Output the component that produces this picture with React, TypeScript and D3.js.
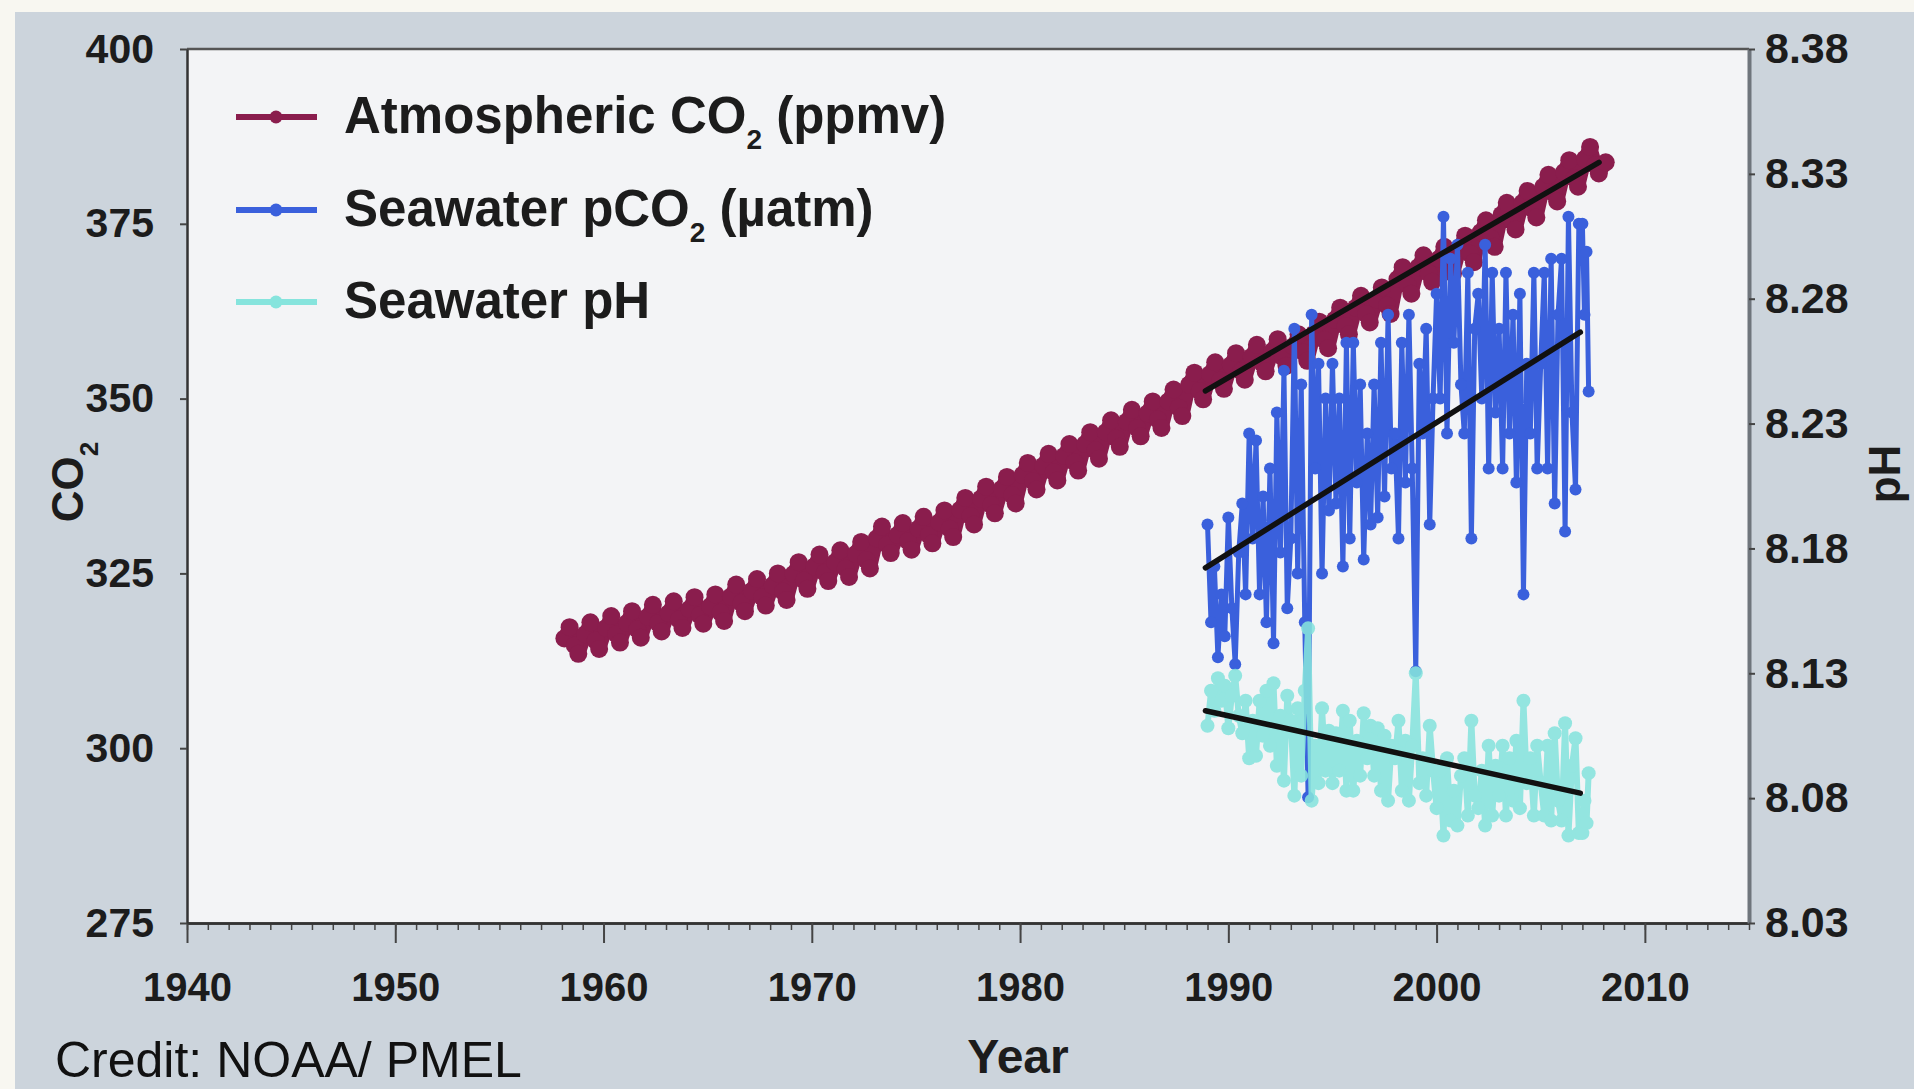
import React, { useEffect, useRef } from 'react';
import * as d3 from 'd3';

// atmospheric record, four samples per year (Feb, May, Aug, Oct)
const co2Years = [
  1958, 1959, 1960, 1961, 1962, 1963, 1964, 1965, 1966, 1967,
  1968, 1969, 1970, 1971, 1972, 1973, 1974, 1975, 1976, 1977,
  1978, 1979, 1980, 1981, 1982, 1983, 1984, 1985, 1986, 1987,
  1988, 1989, 1990, 1991, 1992, 1993, 1994, 1995, 1996, 1997,
  1998, 1999, 2000, 2001, 2002, 2003, 2004, 2005, 2006, 2007, 2008,
];
const co2MonthOffsets = [0.12, 0.37, 0.62, 0.79];
const co2Feb = [
  315.7, 316.3, 317.2, 317.9, 318.8, 319.3, 319.9, 320.3, 321.7, 322.5,
  323.3, 324.9, 326.0, 326.6, 327.8, 330.0, 330.5, 331.4, 332.3, 334.1,
  335.7, 337.1, 339.1, 340.4, 341.8, 343.5, 345.2, 346.7, 347.9, 349.6,
  352.0, 353.5, 354.8, 356.0, 356.8, 357.5, 359.3, 361.3, 363.0, 364.2,
  367.1, 368.8, 370.0, 371.6, 373.8, 376.3, 378.0, 380.3, 382.4, 384.3, 383.8,
];
const co2May = [
  317.3, 318.0, 318.9, 319.6, 320.5, 321.0, 321.6, 322.0, 323.4, 324.2,
  325.0, 326.6, 327.7, 328.3, 329.5, 331.7, 332.2, 333.1, 334.0, 335.8,
  337.4, 338.8, 340.8, 342.1, 343.5, 345.2, 346.9, 348.4, 349.6, 351.3,
  353.7, 355.2, 356.5, 357.7, 358.5, 359.2, 361.0, 363.0, 364.7, 365.9,
  368.8, 370.5, 371.7, 373.3, 375.5, 378.0, 379.7, 382.0, 384.1, 386.0, null,
];
const co2Aug = [
  314.7, 315.4, 316.3, 317.0, 317.9, 318.4, 319.0, 319.4, 320.8, 321.6,
  322.4, 324.0, 325.1, 325.7, 326.9, 329.1, 329.6, 330.5, 331.4, 333.2,
  334.8, 336.2, 338.2, 339.5, 340.9, 342.6, 344.3, 345.8, 347.0, 348.7,
  351.1, 352.6, 353.9, 355.1, 355.9, 356.6, 358.4, 360.4, 362.1, 363.3,
  366.2, 367.9, 369.1, 370.7, 372.9, 375.4, 377.1, 379.4, 381.5, 383.4, null,
];
const co2Oct = [
  313.5, 314.2, 315.1, 315.8, 316.7, 317.2, 317.8, 318.2, 319.6, 320.4,
  321.2, 322.8, 323.9, 324.5, 325.7, 327.9, 328.4, 329.3, 330.2, 332.0,
  333.6, 335.0, 337.0, 338.3, 339.7, 341.4, 343.1, 344.6, 345.8, 347.5,
  349.9, 351.4, 352.7, 353.9, 354.7, 355.4, 357.2, 359.2, 360.9, 362.1,
  365.0, 366.7, 367.9, 369.5, 371.7, 374.2, 375.9, 378.2, 380.3, 382.2, null,
];

// seawater time series (roughly bi-monthly cruises)
const seaTimes = [
  1989.0, 1989.17, 1989.33, 1989.5, 1989.67, 1989.83,
  1990.0, 1990.17, 1990.33, 1990.5, 1990.67, 1990.83,
  1991.0, 1991.17, 1991.33, 1991.5, 1991.67, 1991.83,
  1992.0, 1992.17, 1992.33, 1992.5, 1992.67, 1992.83,
  1993.0, 1993.17, 1993.33, 1993.5, 1993.67, 1993.83,
  1994.0, 1994.17, 1994.33, 1994.5, 1994.67, 1994.83,
  1995.0, 1995.17, 1995.33, 1995.5, 1995.67, 1995.83,
  1996.0, 1996.17, 1996.33, 1996.5, 1996.67, 1996.83,
  1997.0, 1997.17, 1997.33, 1997.5, 1997.67, 1997.83,
  1998.0, 1998.17, 1998.33, 1998.5, 1998.67, 1998.83,
  1999.0, 1999.17, 1999.33, 1999.5, 1999.67, 1999.83,
  2000.0, 2000.17, 2000.33, 2000.5, 2000.67, 2000.83,
  2001.0, 2001.17, 2001.33, 2001.5, 2001.67, 2001.83,
  2002.0, 2002.17, 2002.33, 2002.5, 2002.67, 2002.83,
  2003.0, 2003.17, 2003.33, 2003.5, 2003.67, 2003.83,
  2004.0, 2004.17, 2004.33, 2004.5, 2004.67, 2004.83,
  2005.0, 2005.17, 2005.33, 2005.5, 2005.67, 2005.83,
  2006.0, 2006.17, 2006.33, 2006.5, 2006.67, 2006.83,
  2007.0, 2007.1, 2007.2, 2007.3,
];
const seaPco2 = [
  332, 318, 326, 313, 322, 316,
  333, 320, 312, 328, 335, 322,
  345, 330, 344, 322, 336, 318,
  340, 315, 348, 328, 354, 320,
  330, 360, 325, 352, 318, 293,
  362, 340, 355, 325, 350, 334,
  355, 335, 350, 326, 358, 330,
  358, 338, 352, 327, 345, 332,
  352, 333, 358, 336, 362, 340,
  345, 330, 358, 338, 362, 340,
  311, 355, 345, 360, 332, 350,
  365, 350, 376, 345, 370, 358,
  372, 352, 345, 368, 330, 360,
  365, 350, 372, 340, 368, 348,
  360, 340, 368, 345, 362, 338,
  365, 322, 355, 345, 368, 340,
  355, 368, 340, 370, 335, 362,
  370, 331, 376, 348, 337, 375,
  375, 362, 371, 351,
];
const seaPh = [
  8.109, 8.123, 8.115, 8.128, 8.119, 8.125,
  8.108, 8.121, 8.129, 8.113, 8.106, 8.119,
  8.096, 8.111, 8.097, 8.119, 8.105, 8.123,
  8.101, 8.126, 8.093, 8.113, 8.087, 8.121,
  8.111, 8.081, 8.116, 8.089, 8.123, 8.148,
  8.079, 8.101, 8.086, 8.116, 8.091, 8.107,
  8.086, 8.106, 8.091, 8.115, 8.083, 8.111,
  8.083, 8.103, 8.089, 8.114, 8.096, 8.109,
  8.089, 8.108, 8.083, 8.105, 8.079, 8.101,
  8.096, 8.111, 8.083, 8.103, 8.079, 8.101,
  8.130, 8.086, 8.096, 8.081, 8.109, 8.091,
  8.076, 8.091, 8.065, 8.096, 8.071, 8.083,
  8.069, 8.089, 8.096, 8.073, 8.111, 8.081,
  8.076, 8.091, 8.069, 8.101, 8.073, 8.093,
  8.081, 8.101, 8.073, 8.096, 8.079, 8.103,
  8.076, 8.119, 8.086, 8.096, 8.073, 8.101,
  8.086, 8.073, 8.101, 8.071, 8.106, 8.079,
  8.071, 8.110, 8.065, 8.093, 8.104, 8.066,
  8.066, 8.079, 8.070, 8.090,
];

// linear trends (start, end)
const atmTrendYears = [1988.9, 2007.8];
const atmTrendValues = [351.1, 383.8];
const pco2TrendYears = [1988.9, 2006.9];
const pco2TrendValues = [325.8, 359.5];
const phTrendYears = [1988.9, 2006.9];
const phTrendValues = [8.115, 8.082];

const xTicks = [1940, 1950, 1960, 1970, 1980, 1990, 2000, 2010];
const co2Ticks = [275, 300, 325, 350, 375, 400];
const phTicks = [8.03, 8.08, 8.13, 8.18, 8.23, 8.28, 8.33, 8.38];

const legendLabels = [
  ['Atmospheric CO', '2', ' (ppmv)'],
  ['Seawater pCO', '2', ' (µatm)'],
  ['Seawater pH', '', ''],
];

const FONT = "'Liberation Sans', Arial, Helvetica, sans-serif";
const ATM = '#8a1d4d';
const SEA = '#3a60dc';
const PH = '#86e4dd';

const App: React.FC = () => {
  const svgRef = useRef<SVGSVGElement | null>(null);

  useEffect(() => {
    if (!svgRef.current) return;
    const W = 1914;
    const H = 1089;
    const m = { left: 187, right: 1749, top: 49, bottom: 923 };

    const svg = d3.select(svgRef.current);
    svg.selectAll('*').remove();

    // backgrounds
    svg.append('rect').attr('width', W).attr('height', H).attr('fill', '#f8f7f1');
    svg.append('rect').attr('x', 15).attr('y', 12).attr('width', W - 15).attr('height', H - 12).attr('fill', '#ccd4dc');
    svg.append('rect')
      .attr('x', m.left).attr('y', m.top)
      .attr('width', m.right - m.left).attr('height', m.bottom - m.top)
      .attr('fill', '#f3f4f6');

    // scales
    const x = d3.scaleLinear().domain([1940, 2015]).range([m.left, m.right]);
    const yCo2 = d3.scaleLinear().domain([275, 400]).range([m.bottom, m.top]);
    const yPh = d3.scaleLinear().domain([8.03, 8.38]).range([m.bottom, m.top]);

    // atmospheric series
    const atm: [number, number][] = [];
    co2Years.forEach((yr, i) => {
      [co2Feb, co2May, co2Aug, co2Oct].forEach((arr, k) => {
        const v = arr[i];
        if (v != null) atm.push([yr + co2MonthOffsets[k], v]);
      });
    });
    const lineCo2 = d3.line<[number, number]>().x(d => x(d[0])).y(d => yCo2(d[1]));
    const linePh = d3.line<[number, number]>().x(d => x(d[0])).y(d => yPh(d[1]));

    svg.append('path').attr('d', lineCo2(atm)).attr('fill', 'none')
      .attr('stroke', ATM).attr('stroke-width', 14).attr('stroke-linejoin', 'round');
    svg.append('g').selectAll('circle').data(atm).join('circle')
      .attr('cx', d => x(d[0])).attr('cy', d => yCo2(d[1])).attr('r', 9).attr('fill', ATM);

    // seawater pCO2
    const pco2 = seaTimes.map((t, i) => [t, seaPco2[i]] as [number, number]);
    svg.append('path').attr('d', lineCo2(pco2)).attr('fill', 'none')
      .attr('stroke', SEA).attr('stroke-width', 5).attr('stroke-linejoin', 'round');
    svg.append('g').selectAll('circle').data(pco2).join('circle')
      .attr('cx', d => x(d[0])).attr('cy', d => yCo2(d[1])).attr('r', 6).attr('fill', SEA);

    // seawater pH
    const ph = seaTimes.map((t, i) => [t, seaPh[i]] as [number, number]);
    const phG = svg.append('g').attr('opacity', 0.88);
    phG.append('path').attr('d', linePh(ph)).attr('fill', 'none')
      .attr('stroke', PH).attr('stroke-width', 6).attr('stroke-linejoin', 'round');
    phG.selectAll('circle').data(ph).join('circle')
      .attr('cx', d => x(d[0])).attr('cy', d => yPh(d[1])).attr('r', 7).attr('fill', PH);

    // trend lines
    const trend = (years: number[], vals: number[], y: d3.ScaleLinear<number, number>) =>
      svg.append('line')
        .attr('x1', x(years[0])).attr('y1', y(vals[0]))
        .attr('x2', x(years[1])).attr('y2', y(vals[1]))
        .attr('stroke', '#111').attr('stroke-width', 5.5).attr('stroke-linecap', 'round');
    trend(atmTrendYears, atmTrendValues, yCo2);
    trend(pco2TrendYears, pco2TrendValues, yCo2);
    trend(phTrendYears, phTrendValues, yPh);

    // frame
    svg.append('line').attr('x1', m.left).attr('x2', m.right).attr('y1', m.top).attr('y2', m.top)
      .attr('stroke', '#555').attr('stroke-width', 2.5);

    const styleAxis = (g: d3.Selection<SVGGElement, unknown, null, undefined>, size: number) => {
      g.select('.domain').attr('stroke', '#333').attr('stroke-width', 2.5);
      g.selectAll('.tick line').attr('stroke', '#444').attr('stroke-width', 2);
      g.selectAll('.tick text')
        .attr('fill', '#1c1c1c').attr('font-family', FONT)
        .attr('font-weight', 'bold').attr('font-size', size);
    };

    // x axis: minor yearly ticks + major decade ticks
    const minor = svg.append('g').attr('transform', `translate(0,${m.bottom})`)
      .call(d3.axisBottom(x).tickValues(d3.range(1940, 2016)).tickSize(7).tickSizeOuter(0).tickFormat(() => ''));
    styleAxis(minor, 40);
    minor.selectAll('.tick line').attr('stroke-width', 1.5);
    const xAxis = svg.append('g').attr('transform', `translate(0,${m.bottom})`)
      .call(d3.axisBottom(x).tickValues(xTicks).tickSize(20).tickSizeOuter(0).tickPadding(30).tickFormat(d3.format('d')));
    styleAxis(xAxis, 40);

    const yAxisL = svg.append('g').attr('transform', `translate(${m.left},0)`)
      .call(d3.axisLeft(yCo2).tickValues(co2Ticks).tickSize(7).tickSizeOuter(0).tickPadding(26).tickFormat(d3.format('d')));
    styleAxis(yAxisL, 41);

    const yAxisR = svg.append('g').attr('transform', `translate(${m.right},0)`)
      .call(d3.axisRight(yPh).tickValues(phTicks).tickSize(6).tickSizeOuter(0).tickPadding(10).tickFormat(d3.format('.2f')));
    styleAxis(yAxisR, 43);
    yAxisR.select('.domain').attr('stroke', '#6f757c').attr('stroke-width', 4);

    // axis titles
    const co2Title = svg.append('text')
      .attr('transform', 'translate(83,482) rotate(-90)')
      .attr('text-anchor', 'middle').attr('font-family', FONT).attr('font-weight', 'bold')
      .attr('font-size', 44).attr('fill', '#1c1c1c');
    co2Title.append('tspan').text('CO');
    co2Title.append('tspan').attr('font-size', 26).attr('baseline-shift', 'sub').text('2');

    svg.append('text')
      .attr('transform', 'translate(1900,474) rotate(-90)')
      .attr('text-anchor', 'middle').attr('font-family', FONT).attr('font-weight', 'bold')
      .attr('font-size', 44).attr('fill', '#1c1c1c').text('pH');

    svg.append('text')
      .attr('x', 1018).attr('y', 1073)
      .attr('text-anchor', 'middle').attr('font-family', FONT).attr('font-weight', 'bold')
      .attr('font-size', 48).attr('fill', '#1c1c1c').text('Year');

    svg.append('text')
      .attr('x', 55).attr('y', 1077)
      .attr('font-family', FONT).attr('font-size', 50).attr('fill', '#111')
      .text('Credit: NOAA/ PMEL');

    // legend
    const legendColors = [ATM, SEA, PH];
    const legendY = [117, 210, 302];
    legendLabels.forEach((parts, i) => {
      const g = svg.append('g').attr('transform', `translate(0,${legendY[i]})`);
      g.append('line').attr('x1', 236).attr('x2', 317).attr('y1', 0).attr('y2', 0)
        .attr('stroke', legendColors[i]).attr('stroke-width', 6);
      g.append('circle').attr('cx', 276).attr('cy', 0).attr('r', 6.5).attr('fill', legendColors[i]);
      const t = g.append('text').attr('x', 344).attr('y', 16)
        .attr('font-family', FONT).attr('font-weight', 'bold').attr('font-size', 51).attr('fill', '#1c1c1c');
      t.append('tspan').text(parts[0]);
      if (parts[1]) t.append('tspan').attr('font-size', 28).attr('baseline-shift', 'sub').text(parts[1]);
      if (parts[2]) t.append('tspan').text(parts[2]);
    });
  }, []);

  return (
    <svg
      ref={svgRef}
      width={1914}
      height={1089}
      style={{ position: 'absolute', left: 0, top: 0, display: 'block' }}
    />
  );
};

export default App;
